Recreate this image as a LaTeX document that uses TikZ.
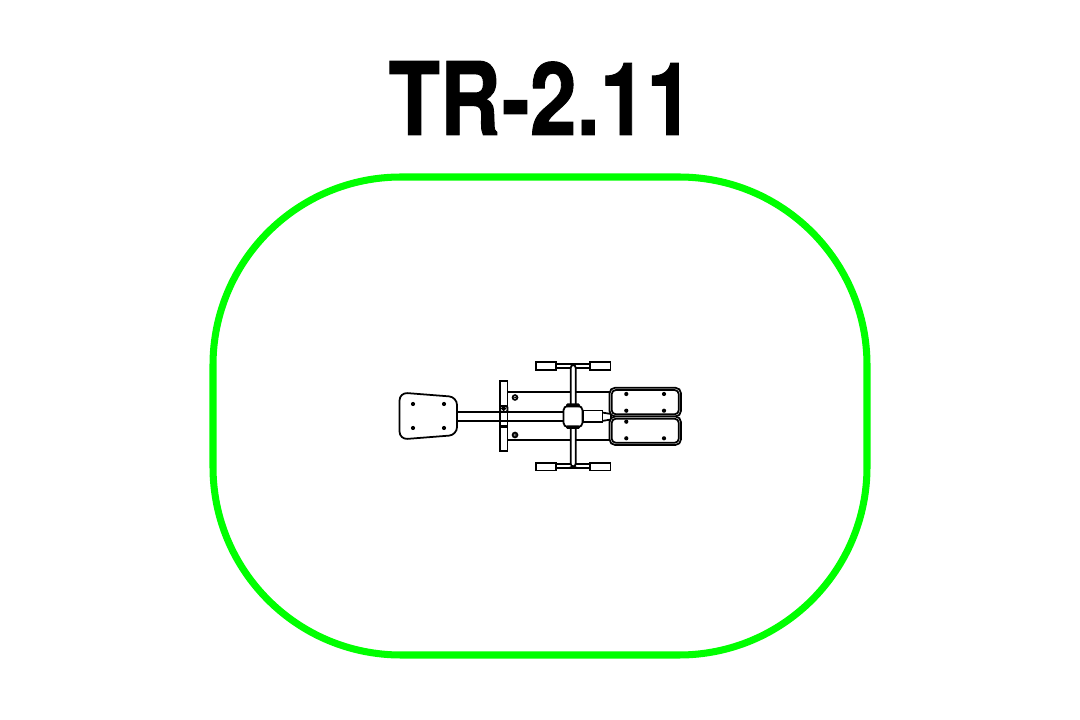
\documentclass[tikz,border=0pt]{standalone}
\usepackage{fontspec}
\setmainfont{Liberation Sans}
\newfontfamily\titlefont[BoldFeatures={FakeBold=1}]{TeX Gyre Heros}
\usepackage{xcolor}
\usepackage{tikz}
\definecolor{zonegreen}{RGB}{0,255,0}
\tikzset{
    zone/.style={draw=zonegreen, line width=5pt, rounded corners=4.7cm},
    part/.style={draw=black, fill=white, line width=1.25pt},
    railline/.style={draw=black, line width=1.25pt},
    pin/.style={fill=black, draw=none},
    tubecap/.style={fill=black, draw=none}
}

\begin{document}
\begin{tikzpicture}[x=0.025cm, y=-0.025cm]
    \useasboundingbox (0, 0) rectangle (1080, 720);

    % Title
    \node[xscale=0.83, font=\fontsize{72}{72}\titlefont\bfseries] (title) at (541, 98) {TR-2.11};

    % Safety zone
    \draw[zone] (213, 177) rectangle (867, 655);

    % Side rails
    \draw[railline] (507, 392) -- (610, 392);
    \draw[railline] (507, 440) -- (610, 440);

    % Rear cross tube
    \draw[part] (500, 381) rectangle (507.5, 451.5);
    \fill[tubecap] (500, 380) rectangle (507.5, 382);
    \fill[tubecap] (500, 450.5) rectangle (507.5, 452.5);
    \draw[part, rounded corners=1pt] (500, 406) rectangle (507.5, 412);
    \draw[part] (500, 421) rectangle (507.5, 427);
    \fill[tubecap] (500, 425.5) rectangle (507.5, 427.5);
    \draw[railline] (503.7, 408.5) circle (1.5);
    \draw[railline] (515, 397.5) circle (2.4);
    \draw[railline] (515, 435) circle (2.4);
    \fill[pin] (515, 397.5) circle (1);
    \fill[pin] (515, 435) circle (1);

    % Main beam
    \draw[railline] (456, 412) -- (564, 412);
    \draw[railline] (456, 421) -- (564, 421);

    % Seat
    \draw[part, rounded corners=0.2cm] (399.5, 392.5) -- (457, 397) -- (457, 435) -- (399.5, 439.5) -- cycle;
    \fill[pin] (413, 404) circle (2.1);
    \fill[pin] (444, 404) circle (2.1);
    \fill[pin] (413, 428) circle (2.1);
    \fill[pin] (444, 428) circle (2.1);

    % Foot handles
    \draw[railline] (556, 364) -- (590, 364);
    \draw[railline] (556, 368) -- (590, 368);
    \draw[railline] (556, 464) -- (590, 464);
    \draw[railline] (556, 468) -- (590, 468);
    \draw[part] (536, 362) rectangle (556, 370);
    \draw[part] (590, 362) rectangle (610.5, 370);
    \draw[part] (536, 463) rectangle (556, 470.5);
    \draw[part] (590, 463) rectangle (610.5, 470.5);

    % Upright tube
    \draw[part, rounded corners=2pt] (570.7, 365) rectangle (575.7, 466.5);

    % Neck to the footplates
    \draw[part] (602, 412.5) -- (611, 414) -- (611, 419.5) -- (602, 421) -- cycle;
    \draw[part] (583.5, 410.5) rectangle (602.5, 422.3);

    % Hub
    \draw[part, rounded corners=3pt] (563.5, 406) rectangle (582.5, 427);
    \fill[tubecap, rounded corners=1pt] (566, 403.5) rectangle (580, 407.5);
    \fill[tubecap, rounded corners=1pt] (566, 425.5) rectangle (580, 429);

    % Footplates
    \draw[part, rounded corners=4pt] (609.5, 387.7) rectangle (681, 416.5);
    \draw[part, rounded corners=3pt] (611.7, 390) rectangle (678.8, 414.3);
    \draw[part, rounded corners=4pt] (609.5, 416.5) rectangle (681, 445);
    \draw[part, rounded corners=3pt] (611.7, 418.7) rectangle (678.8, 442.8);
    \fill[pin] (626.3, 394) circle (2.1);
    \fill[pin] (664, 394) circle (2.1);
    \fill[pin] (626.3, 410.7) circle (2.1);
    \fill[pin] (664, 410.7) circle (2.1);
    \fill[pin] (626.3, 421.7) circle (2.1);
    \fill[pin] (626.3, 438.3) circle (2.1);
    \fill[pin] (664, 438.3) circle (2.1);
\end{tikzpicture}
\end{document}
